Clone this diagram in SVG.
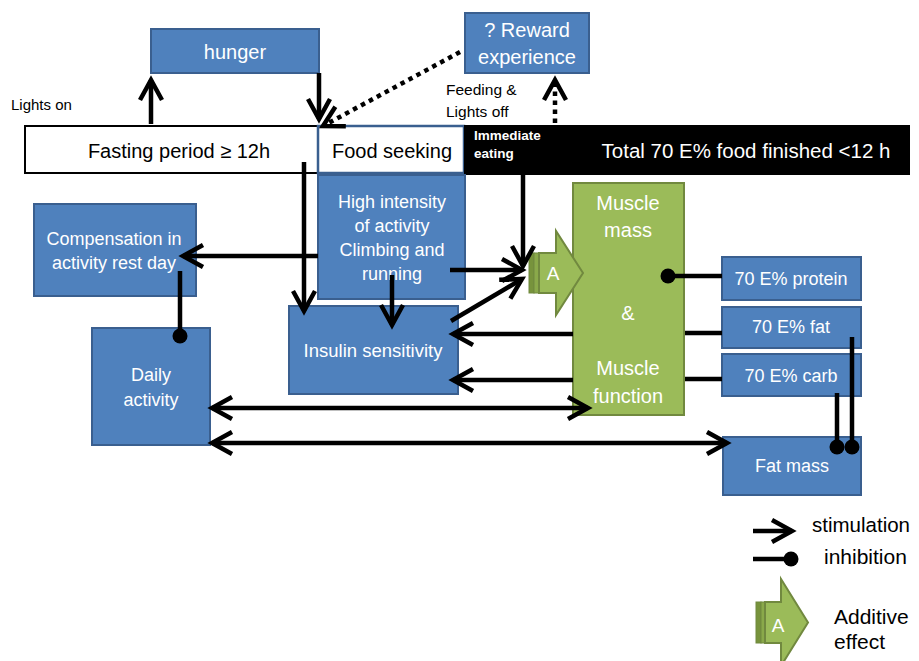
<svg xmlns="http://www.w3.org/2000/svg" width="919" height="661" viewBox="0 0 919 661">
<defs>
<style>
.box{fill:#4f81bd;stroke:#3a5f8f;stroke-width:2}
.t{font-family:"Liberation Sans",Arial,sans-serif;fill:#fff;text-anchor:middle}
.k{font-family:"Liberation Sans",Arial,sans-serif;fill:#000}
.ln{fill:none;stroke:#000;stroke-width:4.5}
.dot{fill:none;stroke:#000;stroke-width:4.5;stroke-dasharray:4.5 4.5}
.stim{marker-end:url(#arr)}
.both{marker-start:url(#arrs);marker-end:url(#arr)}
.grn{fill:#9bbb59;stroke:#71893f;stroke-width:2}
</style>
<marker id="arr" markerUnits="userSpaceOnUse" markerWidth="30" markerHeight="30" viewBox="-24 -15 30 30" refX="0" refY="0" orient="auto" overflow="visible">
<path d="M-20,-11 L0,0 L-20,11" fill="none" stroke="#000" stroke-width="4.5" stroke-dasharray="none"/>
</marker>
<marker id="arrs" markerUnits="userSpaceOnUse" markerWidth="30" markerHeight="30" viewBox="-6 -15 30 30" refX="0" refY="0" orient="auto" overflow="visible">
<path d="M20,-11 L0,0 L20,11" fill="none" stroke="#000" stroke-width="4.5"/>
</marker>
</defs>
<rect width="919" height="661" fill="#fff"/>

<g id="fasting">
<rect x="25" y="126" width="293" height="47" fill="#fff" stroke="#000" stroke-width="2"/>
<text class="k" x="179" y="158" font-size="20" text-anchor="middle">Fasting period ≥ 12h</text>
</g>
<g id="food-seeking">
<rect x="318" y="126" width="146" height="47" fill="#fff" stroke="#3a5f8f" stroke-width="2.5"/>
<text class="k" x="392" y="158" font-size="20" text-anchor="middle">Food seeking</text>
</g>
<g id="total-food">
<rect x="464" y="125" width="446" height="50" fill="#000"/>
<text x="474" y="140" font-family="Liberation Sans,Arial,sans-serif" font-weight="bold" font-size="13.5" fill="#fff">Immediate</text>
<text x="474" y="158" font-family="Liberation Sans,Arial,sans-serif" font-weight="bold" font-size="13.5" fill="#fff">eating</text>
<text x="746" y="158" font-family="Liberation Sans,Arial,sans-serif" font-size="20.5" fill="#fff" text-anchor="middle">Total 70 E% food finished &lt;12 h</text>
</g>
<g id="hunger">
<rect class="box" x="151" y="29" width="168" height="44"/>
<text class="t" x="235" y="59" font-size="20">hunger</text>
</g>
<g id="reward">
<rect class="box" x="465" y="13" width="124" height="60"/>
<text class="t" x="527" y="37" font-size="20">? Reward</text>
<text class="t" x="527" y="64" font-size="20">experience</text>
</g>
<g id="labels">
<text class="k" x="11" y="110" font-size="15">Lights on</text>
<text class="k" x="446" y="95" font-size="15.5">Feeding &amp;</text>
<text class="k" x="446" y="117" font-size="15.5">Lights off</text>
</g>
<g id="high-intensity">
<rect class="box" x="318" y="175" width="147" height="124"/>
<text class="t" x="392" y="208" font-size="18">High intensity</text>
<text class="t" x="392" y="232" font-size="18">of activity</text>
<text class="t" x="392" y="256" font-size="18">Climbing and</text>
<text class="t" x="392" y="280" font-size="18">running</text>
</g>
<g id="compensation">
<rect class="box" x="34" y="204" width="162" height="92"/>
<text class="t" x="114" y="245" font-size="18">Compensation in</text>
<text class="t" x="114" y="269" font-size="18">activity rest day</text>
</g>
<g id="insulin">
<rect class="box" x="289" y="306" width="169" height="88"/>
<text class="t" x="373" y="357" font-size="18.5">Insulin sensitivity</text>
</g>
<g id="daily-activity">
<rect class="box" x="92" y="328" width="118" height="117"/>
<text class="t" x="151" y="381" font-size="18">Daily</text>
<text class="t" x="151" y="406" font-size="18">activity</text>
</g>
<g id="muscle">
<rect class="grn" x="573" y="183" width="111" height="232"/>
<text class="t" x="628" y="210" font-size="20">Muscle</text>
<text class="t" x="628" y="237" font-size="20">mass</text>
<text class="t" x="628" y="320" font-size="20">&amp;</text>
<text class="t" x="628" y="375" font-size="20">Muscle</text>
<text class="t" x="628" y="403" font-size="20">function</text>
</g>
<g id="additive-arrow">
<rect x="529" y="253" width="5" height="40" fill="#77933c" stroke="#71893f" stroke-width="1"/>
<rect x="534" y="253" width="5" height="40" fill="#8aa94a" stroke="#71893f" stroke-width="1"/>
<path class="grn" d="M539,253 L556,253 L556,231 L583,273 L556,315 L556,293 L539,293 Z"/>
<text class="t" x="553" y="280" font-size="19">A</text>
</g>
<g id="protein">
<rect class="box" x="722" y="257" width="139" height="43"/>
<text class="t" x="791" y="285" font-size="18">70 E% protein</text>
</g>
<g id="fat">
<rect class="box" x="722" y="307" width="139" height="41"/>
<text class="t" x="791" y="333" font-size="18">70 E% fat</text>
</g>
<g id="carb">
<rect class="box" x="722" y="354" width="139" height="42"/>
<text class="t" x="791" y="382" font-size="18">70 E% carb</text>
</g>
<g id="fat-mass">
<rect class="box" x="723" y="437" width="138" height="58"/>
<text class="t" x="792" y="472" font-size="18">Fat mass</text>
</g>

<g id="connectors">
<line class="ln stim" x1="151" y1="124" x2="151" y2="80"/>
<line class="ln stim" x1="319" y1="73" x2="319" y2="119"/>
<line class="dot stim" x1="460" y1="52" x2="323" y2="126"/>
<line class="dot stim" x1="555" y1="123" x2="555" y2="80"/>
<line class="ln stim" x1="304" y1="162" x2="304" y2="311"/>
<line class="ln stim" x1="318" y1="256" x2="183" y2="256"/>
<line class="ln" x1="180" y1="271" x2="180" y2="336"/>
<circle cx="180" cy="336" r="7.5"/>
<line class="ln stim" x1="392" y1="275" x2="392" y2="325"/>
<line class="ln stim" x1="523" y1="175" x2="523" y2="266"/>
<line class="ln stim" x1="450" y1="270" x2="522" y2="270"/>
<line class="ln stim" x1="451" y1="321" x2="522" y2="279"/>
<line class="ln stim" x1="573" y1="334" x2="453" y2="334"/>
<line class="ln stim" x1="573" y1="380" x2="453" y2="380"/>
<line class="ln both" x1="212" y1="408" x2="588" y2="408"/>
<line class="ln both" x1="212" y1="443" x2="727" y2="443"/>
<line class="ln" x1="722" y1="276" x2="668" y2="276"/>
<circle cx="668" cy="276" r="7.5"/>
<line class="ln" x1="685" y1="333" x2="722" y2="333"/>
<line class="ln" x1="685" y1="379" x2="722" y2="379"/>
<line class="ln" x1="852" y1="337" x2="852" y2="447"/>
<circle cx="852" cy="447" r="7.5"/>
<line class="ln" x1="837" y1="393" x2="837" y2="447"/>
<circle cx="837" cy="447" r="7.5"/>
</g>

<g id="legend">
<line class="ln stim" x1="753" y1="531" x2="792" y2="531"/>
<text class="k" x="812" y="532" font-size="20.5">stimulation</text>
<line class="ln" x1="753" y1="559" x2="791" y2="559"/>
<circle cx="791" cy="559" r="7.5"/>
<text class="k" x="824" y="564" font-size="21">inhibition</text>
<rect x="756" y="602" width="5" height="41" fill="#77933c" stroke="#71893f" stroke-width="1"/>
<rect x="761" y="602" width="4" height="41" fill="#8aa94a" stroke="#71893f" stroke-width="1"/>
<path class="grn" d="M765,602 L781,602 L781,579 L808,622.5 L781,666 L781,643 L765,643 Z"/>
<text class="t" x="778" y="632" font-size="19">A</text>
<text class="k" x="834" y="624" font-size="21">Additive</text>
<text class="k" x="834" y="649" font-size="21">effect</text>
</g>
</svg>
